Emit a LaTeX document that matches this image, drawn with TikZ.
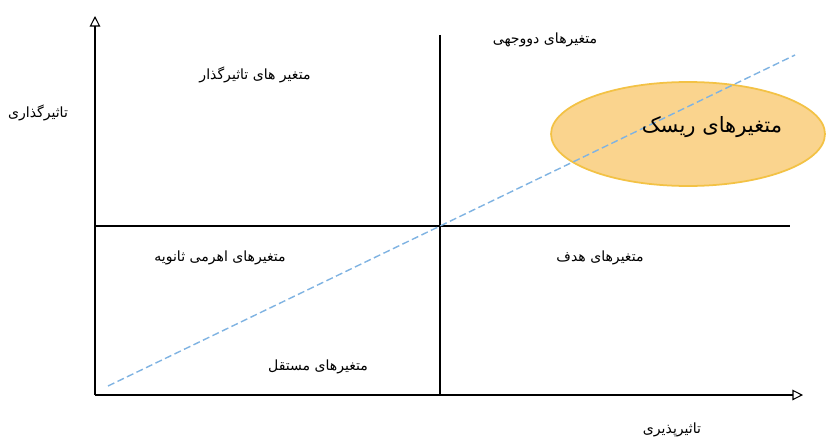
\documentclass[tikz,border=0pt]{standalone}
\usepackage{fontspec}
\newfontfamily\arabicfont[Script=Arabic]{DejaVu Sans}
\TeXXeTstate=1
\usetikzlibrary{arrows.meta,shapes.geometric}
\definecolor{riskfill}{HTML}{FAD48E}
\definecolor{riskline}{HTML}{F3C245}
\definecolor{diagblue}{HTML}{7FB3E2}
\tikzset{
  lbl/.style={font=\arabicfont\footnotesize, inner sep=1pt},
  axis/.style={line width=0.6pt, -{Triangle[open, length=6pt, width=6pt]}},
  grid/.style={line width=0.6pt},
}
\newcommand{\fa}[1]{\beginR #1\endR}

\begin{document}
\begin{tikzpicture}[x=0.02cm, y=-0.02cm]
    \useasboundingbox (0,0) rectangle (827,439);

    % Oси
    \coordinate (O) at (95,395);
    \coordinate (Ytop) at (95,16);
    \coordinate (Xend) at (803,395);
    \draw[axis] (O) -- (Xend);
    \draw[axis] (O) -- (Ytop);

    % Разбиение на четверти
    \coordinate (Vtop) at (440,35);
    \coordinate (Vbot) at (440,395);
    \coordinate (Hleft) at (95,226);
    \coordinate (Hright) at (790,226);
    \draw[grid] (Vtop) -- (Vbot);
    \draw[grid] (Hleft) -- (Hright);

    % Область риска
    \node[ellipse, draw=riskline, fill=riskfill, line width=1pt,
          minimum width=5.48cm, minimum height=2.08cm, inner sep=0pt] (risk) at (688,134) {};

    % Диагональ
    \coordinate (D1) at (108,386);
    \coordinate (D2) at (795,55);
    \draw[diagblue, line width=0.8pt, dash pattern=on 4pt off 2pt] (D1) -- (D2);

    % Подписи
    \node[lbl, font=\arabicfont\large] (risktxt) at (712,127) {\fa{متغیرهای ریسک}};
    \node[lbl] (twoway) at (545,40) {\fa{متغیرهای دووجهی}};
    \node[lbl] (infl) at (255,75) {\fa{متغیر های تاثیرگذار}};
    \node[lbl] (lever) at (220,258) {\fa{متغیرهای اهرمی ثانویه}};
    \node[lbl] (goal) at (600,258) {\fa{متغیرهای هدف}};
    \node[lbl] (indep) at (318,367) {\fa{متغیرهای مستقل}};
    \node[lbl] (ylab) at (38,113) {\fa{تاثیرگذاری}};
    \node[lbl] (xlab) at (672,430) {\fa{تاثیرپذیری}};
\end{tikzpicture}
\end{document}
